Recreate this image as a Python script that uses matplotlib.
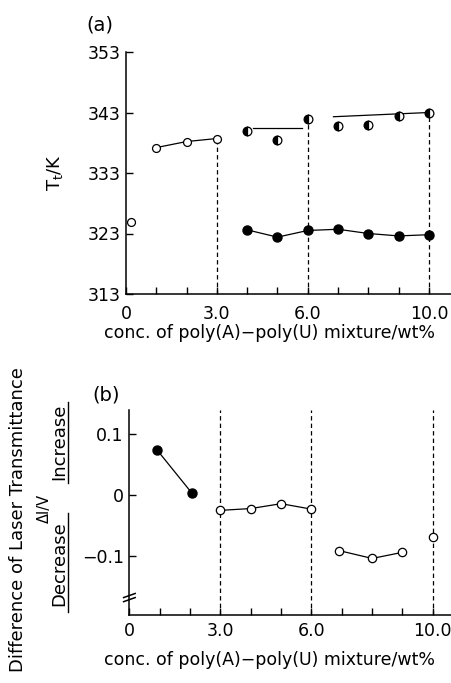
import matplotlib
matplotlib.use('Agg')
import matplotlib.pyplot as plt
from matplotlib.lines import Line2D

# (a) 相变温度
x_open_a = [0.15, 1.0, 2.0, 3.0]
t_open_a = [324.9, 337.2, 338.2, 338.7]
x_half_a = [4.0, 5.0, 6.0, 7.0, 8.0, 9.0, 10.0]
t_half_a = [339.9, 338.5, 342.0, 340.8, 341.0, 342.4, 343.0]
x_fill_a = [4.0, 5.0, 6.0, 7.0, 8.0, 9.0, 10.0]
t_fill_a = [323.6, 322.4, 323.5, 323.7, 323.0, 322.6, 322.8]
fit1_x = [4.2, 5.8]
fit1_t = [340.5, 340.5]
fit2_x = [6.85, 10.0]
fit2_t = [342.3, 343.0]
bound_x = [3.0, 6.0, 10.0]
bound_t = [338.7, 342.0, 343.0]

# (b) 透过率差
x_fill_b = [0.9, 2.05]
d_fill_b = [0.075, 0.004]
x_open_b1 = [3.0, 4.0, 5.0, 6.0]
d_open_b1 = [-0.025, -0.022, -0.014, -0.023]
x_open_b2 = [6.9, 8.0, 9.0]
d_open_b2 = [-0.091, -0.104, -0.094]
x_open_b3 = [10.0]
d_open_b3 = [-0.069]

xticks = [0, 3.0, 6.0, 10.0]
xticklabels = ['0', '3.0', '6.0', '10.0']
yticks_a = [313, 323, 333, 343, 353]
yticks_b = [-0.1, 0, 0.1]
yticklabels_b = ['\u22120.1', '0', '0.1']
xlabel = 'conc. of poly(A)\u2212poly(U) mixture/wt%'

W, H = 451, 683
fx = lambda px: px / W
fy = lambda py: 1 - py / H

plt.rcParams['font.family'] = 'DejaVu Sans'
plt.rcParams['font.size'] = 12.5

fig = plt.figure(figsize=(W / 100, H / 100), dpi=100)

lw = 0.9
ms = 6
dash = (0, (3.5, 2.5))

# 上图
ax1 = fig.add_axes([fx(126), fy(294), fx(451) - fx(126), fy(52) - fy(294)])
ax1.set_xlim(0, 10.73)
ax1.set_ylim(313, 353)
ax1.vlines(bound_x, 313, bound_t, colors='k', linestyles=dash, lw=lw)
ax1.plot(x_open_a[1:], t_open_a[1:], '-', color='k', lw=lw)
ax1.plot(fit1_x, fit1_t, '-', color='k', lw=lw)
ax1.plot(fit2_x, fit2_t, '-', color='k', lw=lw)
ax1.plot(x_fill_a, t_fill_a, '-', color='k', lw=lw)
ax1.plot(x_open_a, t_open_a, 'o', ms=ms - 0.3, mfc='white', mec='k', mew=lw, ls='none')
ax1.plot(x_half_a, t_half_a, 'o', ms=ms + 0.3, fillstyle='left', mfc='k', mfcalt='white',
         mec='k', mew=lw, ls='none')
ax1.plot(x_fill_a, t_fill_a, 'o', ms=ms + 0.5, color='k', ls='none')
ax1.set_yticks(yticks_a)
ax1.set_xticks(xticks)
ax1.set_xticklabels(xticklabels)
ax1.set_xticks([1, 2, 4, 5, 7, 8, 9], minor=True)
ax1.set_xlabel(xlabel, fontsize=12.5)
ax1.xaxis.set_label_coords((270 - 126) / 325, -0.125)
ax1.set_ylabel('T$_\\mathrm{t}$/K', labelpad=16, fontsize=13)

# 下图
ax2 = fig.add_axes([fx(129.4), fy(615), fx(451) - fx(129.4), fy(410) - fy(615)])
ax2.set_xlim(0, 10.6)
ax2.set_ylim(-0.197, 0.14)
for xb in bound_x:
    ax2.axvline(xb, color='k', ls=dash, lw=lw)
ax2.plot(x_fill_b, d_fill_b, '-o', color='k', lw=lw, ms=ms + 0.5)
for xs, ds in [(x_open_b1, d_open_b1), (x_open_b2, d_open_b2), (x_open_b3, d_open_b3)]:
    ax2.plot(xs, ds, '-o', color='k', lw=lw, ms=ms, mfc='white', mec='k', mew=lw)
ax2.set_xticks(xticks)
ax2.set_xticklabels(xticklabels)
ax2.set_xticks([1, 2, 4, 5, 7, 8, 9], minor=True)
ax2.set_yticks(yticks_b)
ax2.set_yticklabels(yticklabels_b)
ax2.set_xlabel(xlabel, fontsize=12.5)
ax2.xaxis.set_label_coords((270 - 129.4) / 321.6, -0.175)

# 纵轴断开符号
for yb in [0.075, 0.095]:
    ax2.plot([-0.018, 0.018], [yb - 0.01, yb + 0.01], color='k', lw=1.1,
             transform=ax2.transAxes, clip_on=False)

for ax in (ax1, ax2):
    ax.spines['top'].set_visible(False)
    ax.spines['right'].set_visible(False)
    for s in ax.spines.values():
        s.set_linewidth(1.1)
    ax.tick_params(which='both', direction='in', length=5, width=1, pad=4)
ax1.tick_params(axis='x', pad=8)
ax2.tick_params(axis='x', pad=5)

fig.text(fx(86), fy(25), '(a)', fontsize=14, va='center', ha='left')
fig.text(fx(92), fy(395), '(b)', fontsize=14, va='center', ha='left')

# 下图纵轴说明
fig.text(fx(18), fy(520), 'Difference of Laser Transmittance', rotation=90,
         ha='center', va='center', fontsize=13)
fig.text(fx(44), fy(508), '\u0394I/V', rotation=90, ha='center', va='center', fontsize=10.5)
fig.text(fx(59), fy(442), 'Increase', rotation=90, ha='center', va='center', fontsize=13)
fig.text(fx(59), fy(564), 'Decrease', rotation=90, ha='center', va='center', fontsize=13)
fig.add_artist(Line2D([fx(68), fx(68)], [fy(402), fy(483)], color='k', lw=1))
fig.add_artist(Line2D([fx(68), fx(68)], [fy(513), fy(612)], color='k', lw=1))

fig.savefig('out.png', dpi=100)
